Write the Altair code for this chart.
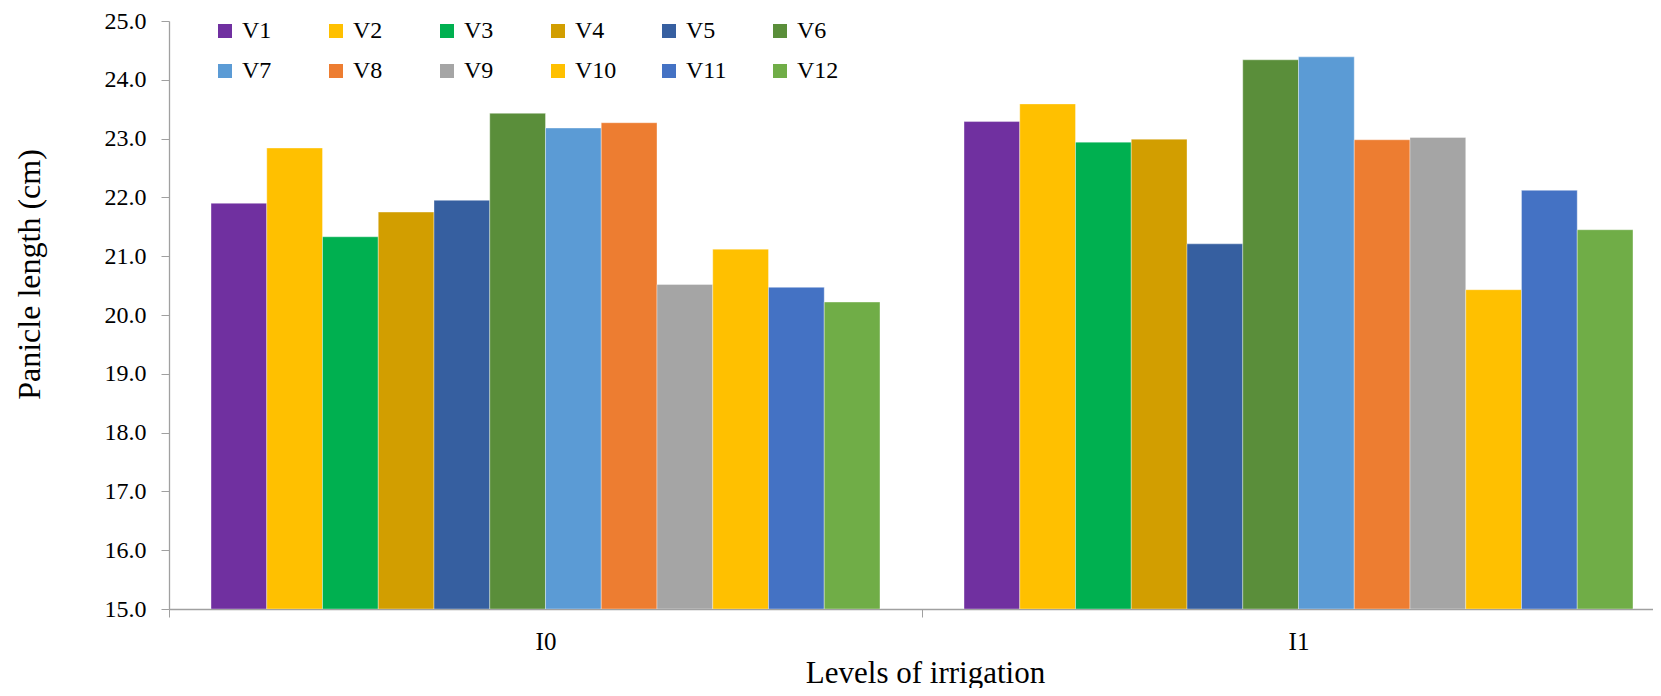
import altair as alt
import pandas as pd

levels = ["I0", "I1"]
varieties = ["V1", "V2", "V3", "V4", "V5", "V6", "V7", "V8", "V9", "V10", "V11", "V12"]
i0_values = [21.90, 22.84, 21.33, 21.75, 21.95, 23.43, 23.18, 23.27, 20.52, 21.12, 20.47, 20.22]
i1_values = [23.29, 23.59, 22.94, 22.99, 21.21, 24.34, 24.39, 22.98, 23.02, 20.43, 22.12, 21.45]
colors = ["#7030A0", "#FFC000", "#00B050", "#D29E00", "#365FA0", "#5A8E3A",
          "#5B9BD5", "#ED7D31", "#A5A5A5", "#FFC000", "#4472C4", "#70AD47"]
y_ticks = [15, 16, 17, 18, 19, 20, 21, 22, 23, 24, 25]

rows = []
for lvl, vals in zip(levels, [i0_values, i1_values]):
    for v, val in zip(varieties, vals):
        rows.append({"level": lvl, "variety": v, "length": val})
df = pd.DataFrame(rows)

FONT = "Liberation Serif, Times New Roman, serif"
AXIS_GRAY = "#A0A0A0"

chart = alt.Chart(df).mark_bar(
    clip=True, stroke="white", strokeWidth=0.6, strokeOpacity=0.6
).encode(
    x=alt.X(
        "level:N",
        sort=levels,
        scale=alt.Scale(range=[0, 1506], paddingInner=0.1116, paddingOuter=0.0558),
        axis=alt.Axis(
            title="Levels of irrigation",
            labelAngle=0,
            bandPosition=0,
            tickOffset=-42,
            labelOffset=42,
            tickSize=8,
            tickColor=AXIS_GRAY,
            domainColor=AXIS_GRAY,
            domainWidth=1.3,
            labelFont=FONT,
            labelFontSize=25,
            labelColor="black",
            labelPadding=12,
            labelAlign="center",
            titleFont=FONT,
            titleFontSize=31,
            titleFontWeight="normal",
            titleColor="black",
            titleX=756,
            titleY=73,
            titleAlign="center",
            titleBaseline="alphabetic",
        ),
    ),
    xOffset=alt.XOffset("variety:N", sort=varieties,
                        scale=alt.Scale(paddingInner=0, paddingOuter=0)),
    y=alt.Y(
        "length:Q",
        scale=alt.Scale(domain=[15, 25], nice=False, zero=False),
        axis=alt.Axis(
            title="Panicle length (cm)",
            values=y_ticks,
            format=".1f",
            grid=False,
            tickSize=8,
            tickColor=AXIS_GRAY,
            domainColor=AXIS_GRAY,
            domainWidth=1.3,
            labelFont=FONT,
            labelFontSize=24,
            labelColor="black",
            labelPadding=15,
            titleFont=FONT,
            titleFontSize=32,
            titleFontWeight="normal",
            titleColor="black",
            titleX=-140,
            titleY=253,
            titleAngle=270,
            titleAlign="center",
            titleBaseline="middle",
        ),
    ),
    y2=alt.Y2Datum(15),
    color=alt.Color(
        "variety:N",
        sort=varieties,
        scale=alt.Scale(domain=varieties, range=colors),
        legend=alt.Legend(
            title=None,
            orient="none",
            legendX=44,
            legendY=-2,
            columns=6,
            direction="horizontal",
            gridAlign="all",
            columnPadding=40,
            rowPadding=16,
            padding=0,
            symbolType="square",
            symbolSize=196,
            symbolStrokeWidth=0,
            labelFont=FONT,
            labelFontSize=24,
            labelColor="black",
            labelOffset=5,
        ),
    ),
).properties(
    width=1484,
    height=588,
    autosize=alt.AutoSizeParams(type="none"),
    padding={"left": 161, "top": 13, "right": 0, "bottom": 79},
).configure(
    font=FONT
).configure_view(stroke=None)

chart.save("out.html", embed_options={"renderer": "svg", "actions": False})
